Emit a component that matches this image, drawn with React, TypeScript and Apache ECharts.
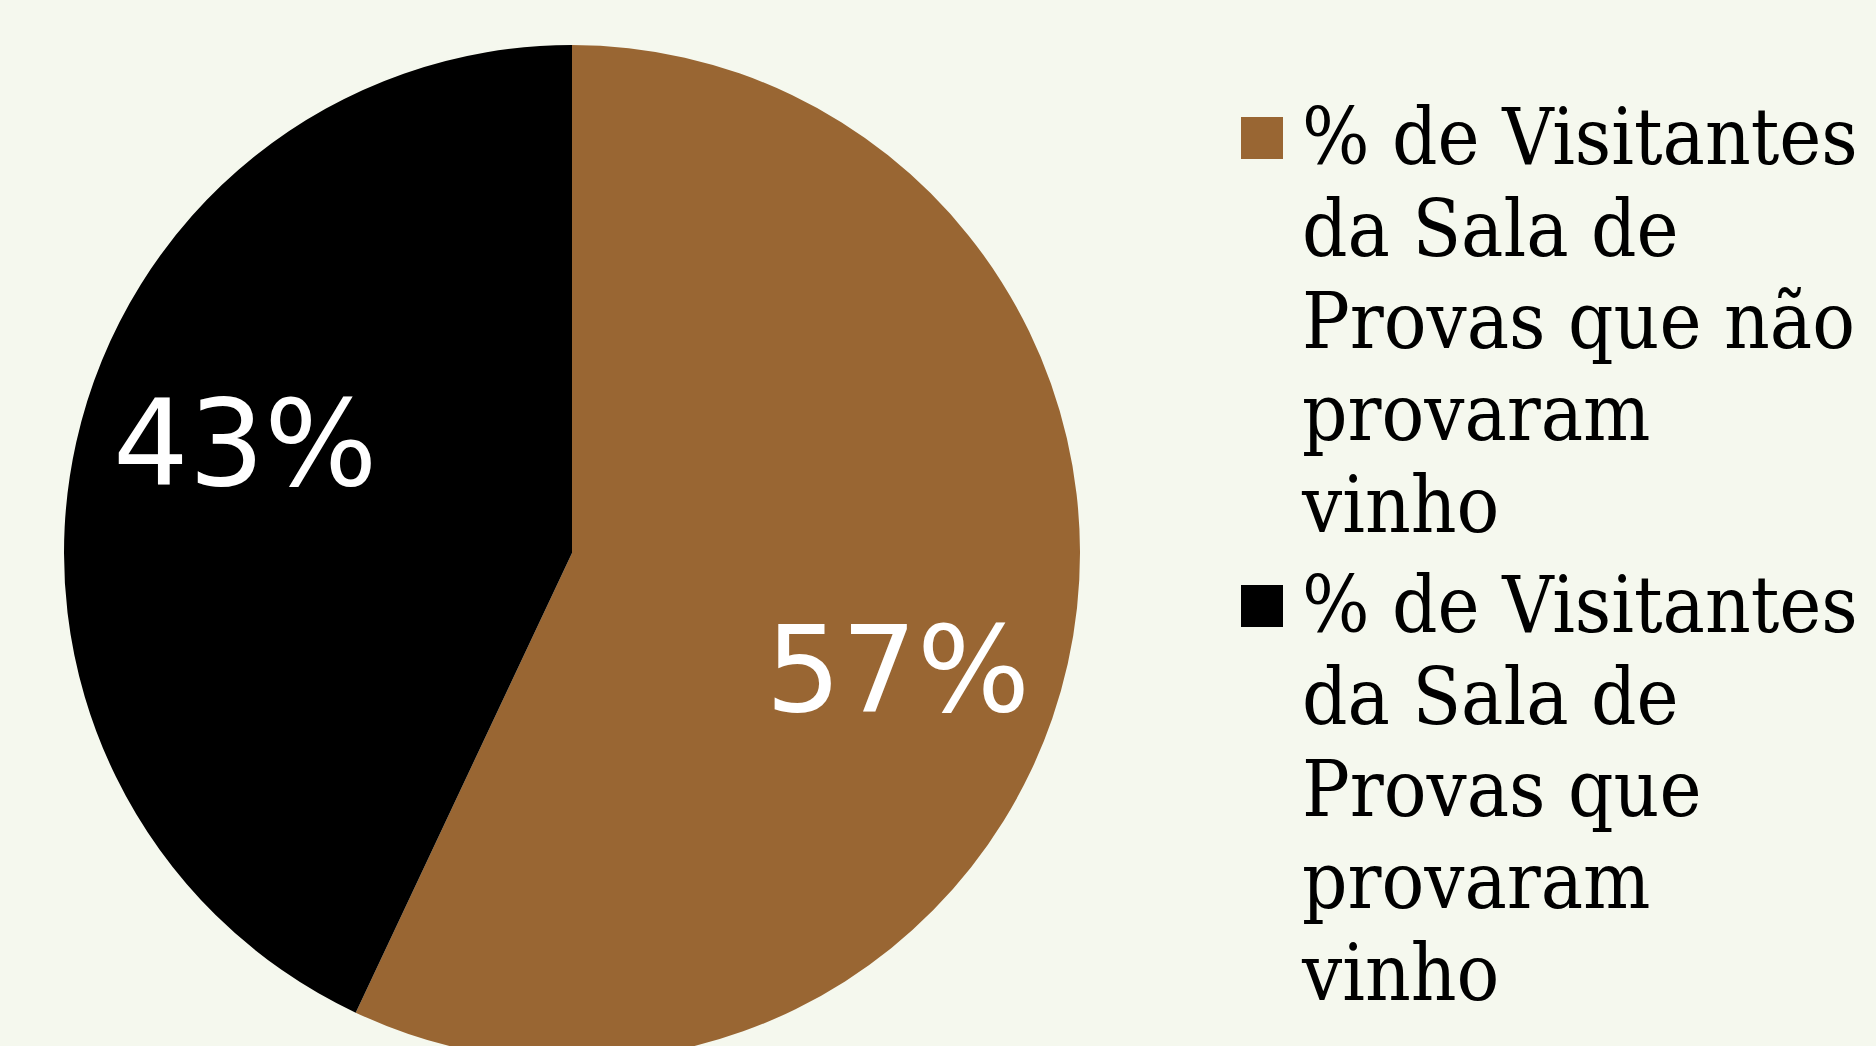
import React, { useEffect, useRef } from "react";
import * as echarts from "echarts";

// ---- data ----
const categories: string[] = [
  "% de Visitantes da Sala de Provas que não provaram vinho",
  "% de Visitantes da Sala de Provas que provaram vinho",
];
const legendLines: string[][] = [
  ["% de Visitantes", "da Sala de", "Provas que não", "provaram", "vinho"],
  ["% de Visitantes", "da Sala de", "Provas que", "provaram", "vinho"],
];
const values: number[] = [57, 43];

// ---- styles ----
const colors = ["#996633", "#000000"];
const labelOffsets: number[][] = [
  [75, 61],
  [-76, -53],
];
const BG = "#F5F8EE";
const LINE_H = 92;
const ITEM_H = LINE_H * 5;

export default function App() {
  const ref = useRef<HTMLDivElement>(null);

  useEffect(() => {
    document.body.style.margin = "0";
    const chart = echarts.init(ref.current!, undefined, { renderer: "svg" });
    const iconPath = `path://M0,0 L0,0 M0,26 L42,26 L42,68 L0,68 Z M56,${ITEM_H} L56,${ITEM_H}`;
    chart.setOption({
      animation: false,
      backgroundColor: BG,
      legend: {
        orient: "vertical",
        left: 1236,
        top: 86,
        itemWidth: 56,
        itemHeight: ITEM_H,
        itemGap: 8,
        icon: iconPath,
        selectedMode: false,
        itemStyle: { borderWidth: 0 },
        data: categories,
        formatter: (name: string) => {
          const i = categories.indexOf(name);
          return legendLines[i].join("\n");
        },
        textStyle: {
          fontFamily: "DejaVu Serif Condensed",
          fontSize: 79,
          lineHeight: LINE_H,
          color: "#000000",
          padding: 0,
        },
      },
      series: [
        {
          type: "pie",
          center: [572, 553],
          radius: 508,
          startAngle: 90,
          clockwise: true,
          silent: true,
          emphasis: { disabled: true },
          itemStyle: { borderWidth: 0 },
          labelLine: { show: false },
          label: {
            show: true,
            position: "inside",
            formatter: "{c}%",
            color: "#ffffff",
            fontFamily: "DejaVu Sans",
            fontSize: 119,
          },
          data: categories.map((name, i) => ({
            name,
            value: values[i],
            itemStyle: { color: colors[i] },
            label: { offset: labelOffsets[i] },
          })),
        },
      ],
    });
    return () => chart.dispose();
  }, []);

  return (
    <div
      ref={ref}
      style={{ position: "fixed", left: 0, top: 0, width: 1876, height: 1046 }}
    />
  );
}
